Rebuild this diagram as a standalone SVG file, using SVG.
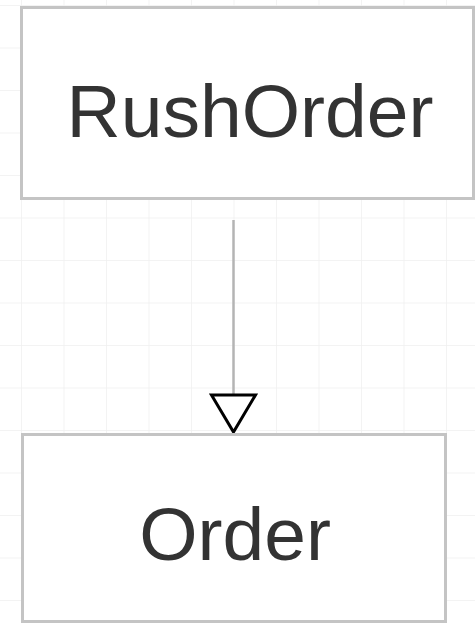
<svg xmlns="http://www.w3.org/2000/svg" width="475" height="623" viewBox="0 0 475 623">
<defs>
<pattern id="grid" x="21" y="5" width="42.5" height="42.5" patternUnits="userSpaceOnUse">
<path d="M0 0 H42.5 M0 0 V42.5" fill="none" stroke="#efefef" stroke-width="1.5"/>
</pattern>
</defs>
<style>
.box{fill:#ffffff;stroke:#c4c4c4;stroke-width:3}
.lbl{font-family:"Liberation Sans",Arial,sans-serif;font-size:75px;fill:#333333;text-anchor:middle}
.edge{stroke:#b4b4b4;stroke-width:2.5;fill:none}
.head{fill:#ffffff;stroke:#000000;stroke-width:3;stroke-linejoin:miter}
</style>
<rect width="475" height="623" fill="#ffffff"/>
<rect width="475" height="623" fill="url(#grid)"/>
<g id="connectors">
<line class="edge" x1="233.5" y1="220" x2="233.5" y2="394"/>
<polygon class="head" points="211.5,395 255.5,395 233.5,432"/>
</g>
<g id="RushOrder">
<rect class="box" x="21.5" y="7.5" width="452" height="191"/>
<text class="lbl" x="250" y="137">RushOrder</text>
</g>
<g id="Order">
<rect class="box" x="22.5" y="434.5" width="423" height="187"/>
<text class="lbl" x="235" y="560">Order</text>
</g>
</svg>
